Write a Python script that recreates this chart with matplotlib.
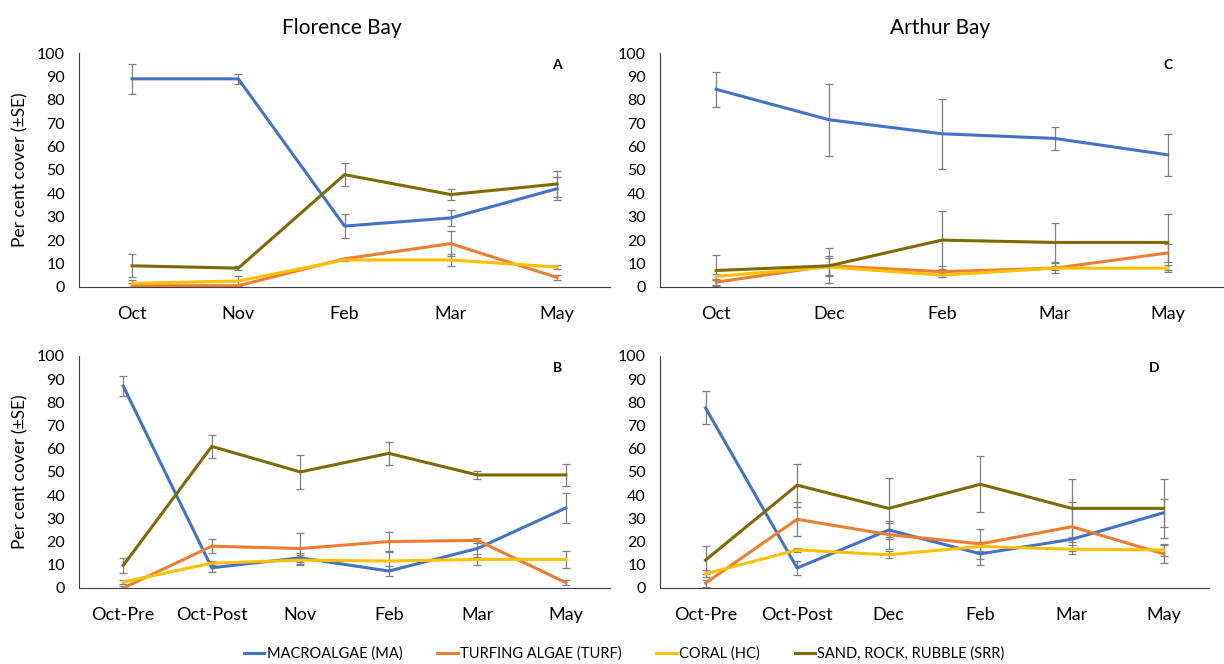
import matplotlib.pyplot as plt
import numpy as np

plt.rcParams['font.family'] = ['Lato', 'DejaVu Sans']

# Categories
months_a = ['Oct', 'Nov', 'Feb', 'Mar', 'May']
months_c = ['Oct', 'Dec', 'Feb', 'Mar', 'May']
months_b = ['Oct-Pre', 'Oct-Post', 'Nov', 'Feb', 'Mar', 'May']
months_d = ['Oct-Pre', 'Oct-Post', 'Dec', 'Feb', 'Mar', 'May']

# Panel A - Florence Bay
a_ma = [89, 89, 26, 29.5, 42]
a_ma_se = [6.5, 2, 5, 3.5, 5]
a_turf = [0.5, 0.5, 12, 18.5, 4]
a_turf_se = [1, 0.5, 0.5, 5.5, 1]
a_hc = [1.5, 2.5, 11.5, 11.5, 8.5]
a_hc_se = [1.5, 2, 0.5, 2.5, 1]
a_srr = [9, 8, 48, 39.5, 44]
a_srr_se = [5, 1, 5, 2.5, 5.5]

# Panel C - Arthur Bay
c_ma = [84.5, 71.5, 65.5, 63.5, 56.5]
c_ma_se = [7.5, 15.5, 15, 5, 9]
c_turf = [2, 9, 6.5, 8, 14.5]
c_turf_se = [1, 4, 2.5, 2, 4]
c_hc = [4.5, 8.5, 5, 8, 8]
c_hc_se = [1, 4, 1, 1, 1.5]
c_srr = [7, 9, 20, 19, 19]
c_srr_se = [6.5, 7.5, 12.5, 8.5, 12]

# Panel B - Florence Bay
b_ma = [87, 8.7, 13, 7.3, 17, 34.5]
b_ma_se = [4.3, 2, 2, 2, 3.5, 6.3]
b_turf = [0, 18, 17, 20, 20.5, 2.3]
b_turf_se = [1, 3, 6.7, 4, 1, 1]
b_hc = [2.6, 10.7, 12, 11.6, 12.3, 12.3]
b_hc_se = [1, 1, 2, 4, 2.5, 3.8]
b_srr = [9.7, 61, 50, 58, 48.7, 48.7]
b_srr_se = [3.2, 4.8, 7.3, 4.8, 1.8, 4.7]

# Panel D - Arthur Bay
d_ma = [77.6, 8.6, 25, 14.7, 21, 32.4]
d_ma_se = [7.1, 2.9, 3, 4.7, 1, 6]
d_turf = [2.1, 29.6, 23, 19, 26.4, 14.7]
d_turf_se = [1.5, 7.4, 6, 6.4, 10.5, 4]
d_hc = [6.1, 16.4, 14.3, 17.9, 16.7, 16.4]
d_hc_se = [1.5, 1, 1.5, 2, 2, 2.5]
d_srr = [12, 44.3, 34.3, 44.7, 34.3, 34.3]
d_srr_se = [6, 9.3, 13, 12, 12.6, 12.6]

labels = ['MACROALGAE (MA)', 'TURFING ALGAE (TURF)', 'CORAL (HC)', 'SAND, ROCK, RUBBLE (SRR)']
colors = ['#4472C4', '#ED7D31', '#FFC000', '#7F6A00']

fig = plt.figure(figsize=(12.24, 6.64), dpi=100)
ax_a = fig.add_axes([0.0645, 0.568, 0.434, 0.352])
ax_c = fig.add_axes([0.539, 0.568, 0.461, 0.352])
ax_b = fig.add_axes([0.0645, 0.1145, 0.434, 0.3495])
ax_d = fig.add_axes([0.539, 0.1145, 0.449, 0.3495])

panels = [
    (ax_a, months_a, [a_ma, a_turf, a_hc, a_srr], [a_ma_se, a_turf_se, a_hc_se, a_srr_se], 'A'),
    (ax_c, months_c, [c_ma, c_turf, c_hc, c_srr], [c_ma_se, c_turf_se, c_hc_se, c_srr_se], 'C'),
    (ax_b, months_b, [b_ma, b_turf, b_hc, b_srr], [b_ma_se, b_turf_se, b_hc_se, b_srr_se], 'B'),
    (ax_d, months_d, [d_ma, d_turf, d_hc, d_srr], [d_ma_se, d_turf_se, d_hc_se, d_srr_se], 'D'),
]

handles = []
for ax, months, series, errs, letter in panels:
    x = np.arange(len(months))
    for vals, se, color, lab in zip(series, errs, colors, labels):
        ax.errorbar(x, vals, yerr=se, color=color, lw=2.2, ecolor='#7f7f7f',
                    elinewidth=0.9, capsize=3, capthick=0.9)
        if ax is ax_a:
            handles.append(plt.Line2D([0], [0], color=color, lw=2.2, label=lab))
    ax.set_xlim(-0.5, len(months) - 0.5)
    ax.set_ylim(0, 100)
    ax.set_yticks(range(0, 101, 10))
    ax.set_xticks(x)
    ax.set_xticklabels(months, fontsize=13)
    ax.tick_params(axis='x', length=0, pad=14)
    ax.tick_params(axis='y', length=0, pad=10, labelsize=11.5)
    for s in ['top', 'right']:
        ax.spines[s].set_visible(False)
    ax.spines['left'].set_color('#404040')
    ax.spines['bottom'].set_color('#404040')
    ax.text(0.9, 0.95, letter, transform=ax.transAxes, fontsize=10,
            fontweight='bold', ha='center', va='center')

ax_a.set_ylabel('Per cent cover (±SE)', fontsize=12.5, labelpad=6)
ax_b.set_ylabel('Per cent cover (±SE)', fontsize=12.5, labelpad=6)

fig.text(0.279, 0.958, 'Florence Bay', fontsize=15, ha='center', va='center')
fig.text(0.768, 0.958, 'Arthur Bay', fontsize=15, ha='center', va='center')

fig.legend(handles=handles, loc='center', bbox_to_anchor=(0.51, 0.015), ncol=4,
           frameon=False, fontsize=10.5, handlelength=1.4, handletextpad=0.15,
           columnspacing=2.4)

fig.savefig('out.png', dpi=100)
